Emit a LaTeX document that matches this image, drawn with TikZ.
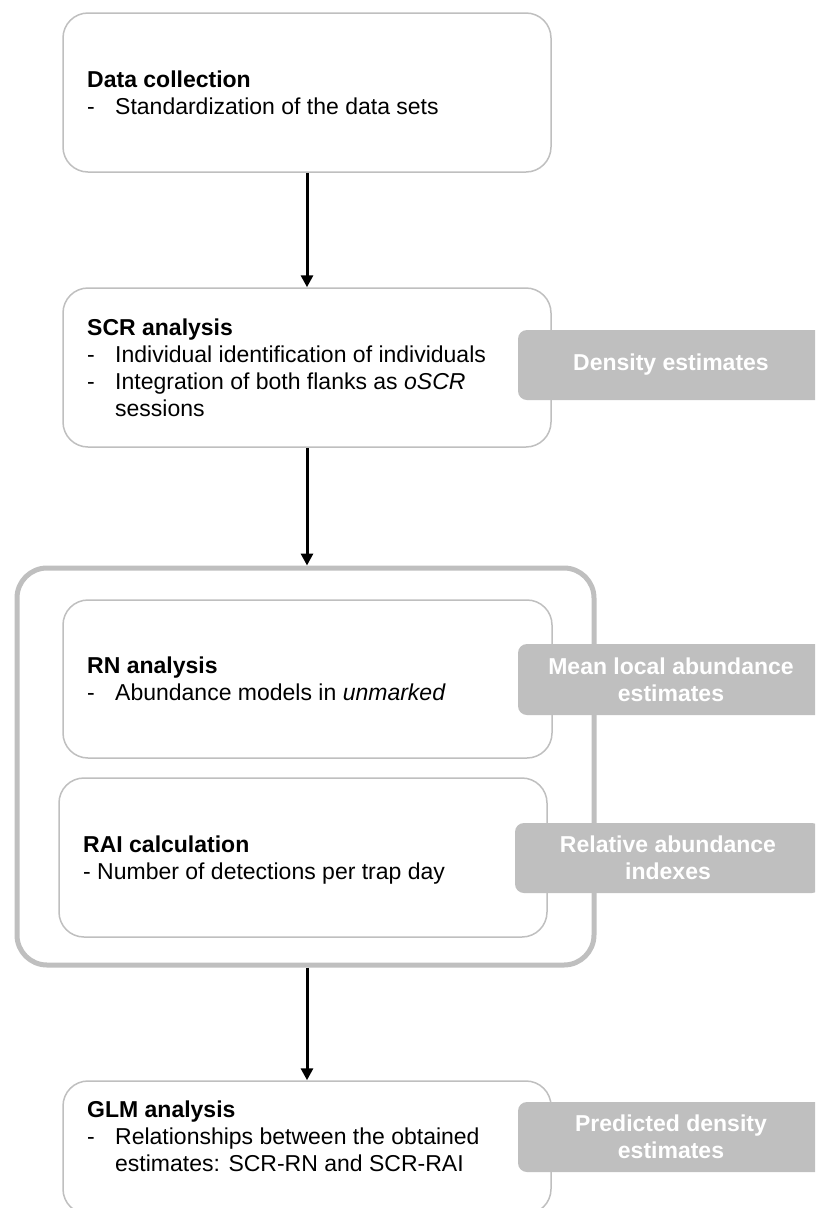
\documentclass[tikz,border=0pt]{standalone}
\usepackage{fontspec}
\setmainfont{Liberation Sans}
\usetikzlibrary{arrows.meta}
\definecolor{boxgray}{HTML}{BFBFBF}
\definecolor{labelgray}{HTML}{BFBFBF}
\begin{document}
\begin{tikzpicture}[x=1pt,y=-1pt,
  stepbox/.style={draw=boxgray, line width=1.5pt, rounded corners=25pt, fill=white, inner sep=0pt},
  outerbox/.style={draw=boxgray, line width=5pt, rounded corners=30pt, inner sep=0pt},
  lab/.style={fill=labelgray, rounded corners=9pt, minimum width=306pt, minimum height=70pt, text=white,
    font=\bfseries\fontsize{23}{27}\selectfont, align=center, inner sep=0pt},
  txt/.style={anchor=base west, inner sep=0pt, font=\fontsize{23}{27.3}\selectfont},
  arr/.style={-{Triangle[length=12pt,width=12pt]}, line width=3pt, draw=black}]
\useasboundingbox (0,0) rectangle (815,1208);
\clip (0,0) rectangle (815,1208);

% outer group
\node[outerbox, minimum width=577pt, minimum height=397pt] (outer) at (305.5,766.5) {};

% step boxes
\node[stepbox, minimum width=488pt, minimum height=159pt] (data) at (307,92.5) {};
\node[stepbox, minimum width=488pt, minimum height=159pt] (scr) at (307,367.5) {};
\node[stepbox, minimum width=489pt, minimum height=158pt] (rn) at (307.5,679) {};
\node[stepbox, minimum width=488pt, minimum height=159pt] (rai) at (303,857.5) {};
\node[stepbox, minimum width=488pt, minimum height=133pt] (glm) at (307,1147.5) {};

% texts
\node[txt] (datatxt) at (87,87) {\begin{tabular}[t]{@{}p{28pt}@{}l@{}}
\multicolumn{2}{@{}l@{}}{\bfseries Data collection}\\
-& Standardization of the data sets
\end{tabular}};
\node[txt] (scrtxt) at (87,335) {\begin{tabular}[t]{@{}p{28pt}@{}l@{}}
\multicolumn{2}{@{}l@{}}{\bfseries SCR analysis}\\
-& Individual identification of individuals\\
-& Integration of both flanks as \textit{oSCR}\\
 & sessions
\end{tabular}};
\node[txt] (rntxt) at (87,673) {\begin{tabular}[t]{@{}p{28pt}@{}l@{}}
\multicolumn{2}{@{}l@{}}{\bfseries RN analysis}\\
-& Abundance models in \textit{unmarked}
\end{tabular}};
\node[txt] (raitxt) at (83,852) {\begin{tabular}[t]{@{}l@{}}
\bfseries RAI calculation\\
- Number of detections per trap day
\end{tabular}};
\node[txt] (glmtxt) at (87,1117) {\begin{tabular}[t]{@{}p{28pt}@{}l@{}}
\multicolumn{2}{@{}l@{}}{\bfseries GLM analysis}\\
-& Relationships between the obtained\\
 & estimates: SCR-RN and SCR-RAI
\end{tabular}};

% arrows
\draw[arr] (data.south) -- (scr.north);
\draw[arr] (scr.south) -- (scr.south |- outer.north);
\draw[arr] (glm.north |- outer.south) -- (glm.north);

% result labels
\node[lab] (dens) at (671,365) {Density estimates};
\node[lab, minimum height=71pt] (mean) at (671,679.5) {Mean local abundance\\estimates};
\node[lab] (rel) at (668,858) {Relative abundance\\indexes};
\node[lab] (pred) at (671,1137) {Predicted density\\estimates};
\end{tikzpicture}
\end{document}
